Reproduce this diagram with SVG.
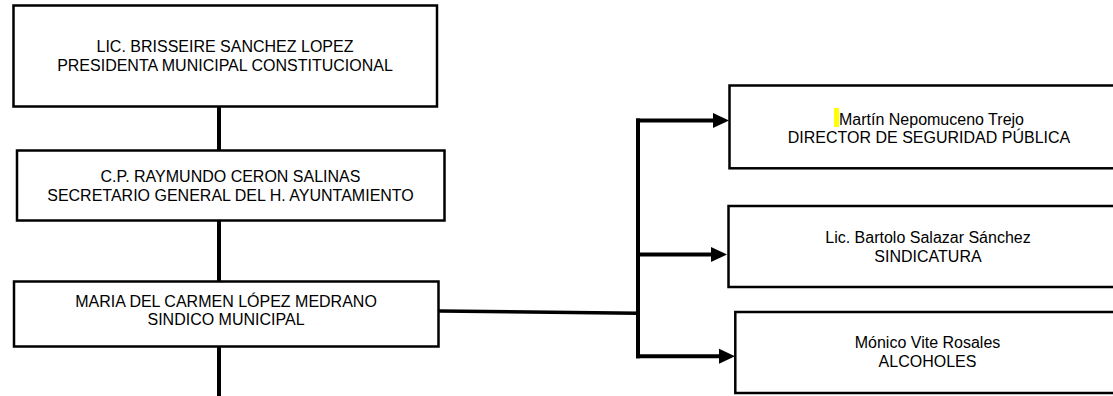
<svg xmlns="http://www.w3.org/2000/svg" width="1113" height="396" viewBox="0 0 1113 396">
<style>
.box{fill:#fff;stroke:#000;stroke-width:2.5}
.t{font-family:"Liberation Sans",Arial,sans-serif;fill:#000;text-anchor:middle}
.l{font-size:16px}
.r{font-size:16px}
.c{stroke:#000;fill:none;stroke-width:4}
</style>
<defs>
<marker id="ah" markerUnits="userSpaceOnUse" markerWidth="16" markerHeight="16" refX="0" refY="7.5" orient="auto" overflow="visible">
<path d="M0,0 L16,7.5 L0,15 Z" fill="#000"/>
</marker>
</defs>
<rect width="1113" height="396" fill="#fff"/>
<g id="connectors">
<line class="c" x1="219" y1="107" x2="219" y2="150"/>
<line class="c" x1="219" y1="221" x2="219" y2="281"/>
<line class="c" x1="219" y1="347" x2="219" y2="396"/>
<line class="c" style="stroke-width:3.5" x1="439" y1="311" x2="638" y2="313.3"/>
<line class="c" x1="638" y1="118.5" x2="638" y2="358.3"/>
<line class="c" x1="636" y1="120.5" x2="713" y2="120.5" marker-end="url(#ah)"/>
<line class="c" x1="638" y1="254.5" x2="711" y2="254.5" marker-end="url(#ah)"/>
<line class="c" x1="636" y1="356.3" x2="719" y2="356.3" marker-end="url(#ah)"/>
</g>
<g id="presidenta">
<rect class="box" x="13.5" y="5.5" width="423.5" height="101"/>
<text class="t l" x="225" y="52.3">LIC. BRISSEIRE SANCHEZ LOPEZ</text>
<text class="t l" x="225" y="71">PRESIDENTA MUNICIPAL CONSTITUCIONAL</text>
</g>
<g id="secretario">
<rect class="box" x="17" y="150.5" width="427.5" height="70"/>
<text class="t l" x="230.5" y="181.7">C.P. RAYMUNDO CERON SALINAS</text>
<text class="t l" x="230.5" y="200.7">SECRETARIO GENERAL DEL H. AYUNTAMIENTO</text>
</g>
<g id="sindico">
<rect class="box" x="14" y="281.5" width="424.5" height="65"/>
<text class="t l" x="226" y="306.7">MARIA DEL CARMEN LÓPEZ MEDRANO</text>
<text class="t l" x="226" y="325">SINDICO MUNICIPAL</text>
</g>
<g id="seguridad">
<rect class="box" x="729.5" y="85.5" width="400" height="82.8"/>
<rect x="834" y="108" width="5" height="19" fill="#ffff00"/>
<text class="t r" x="839" y="125" style="text-anchor:start">Martín Nepomuceno Trejo</text>
<text class="t r" x="929" y="142.7">DIRECTOR DE SEGURIDAD PÚBLICA</text>
</g>
<g id="sindicatura">
<rect class="box" x="728.5" y="206" width="400" height="81"/>
<text class="t r" x="928" y="242.7">Lic. Bartolo Salazar Sánchez</text>
<text class="t r" x="928" y="261.7">SINDICATURA</text>
</g>
<g id="alcoholes">
<rect class="box" x="735.3" y="312" width="400" height="81"/>
<text class="t r" x="927.5" y="348.3">Mónico Vite Rosales</text>
<text class="t r" x="927.5" y="366.7">ALCOHOLES</text>
</g>
</svg>
